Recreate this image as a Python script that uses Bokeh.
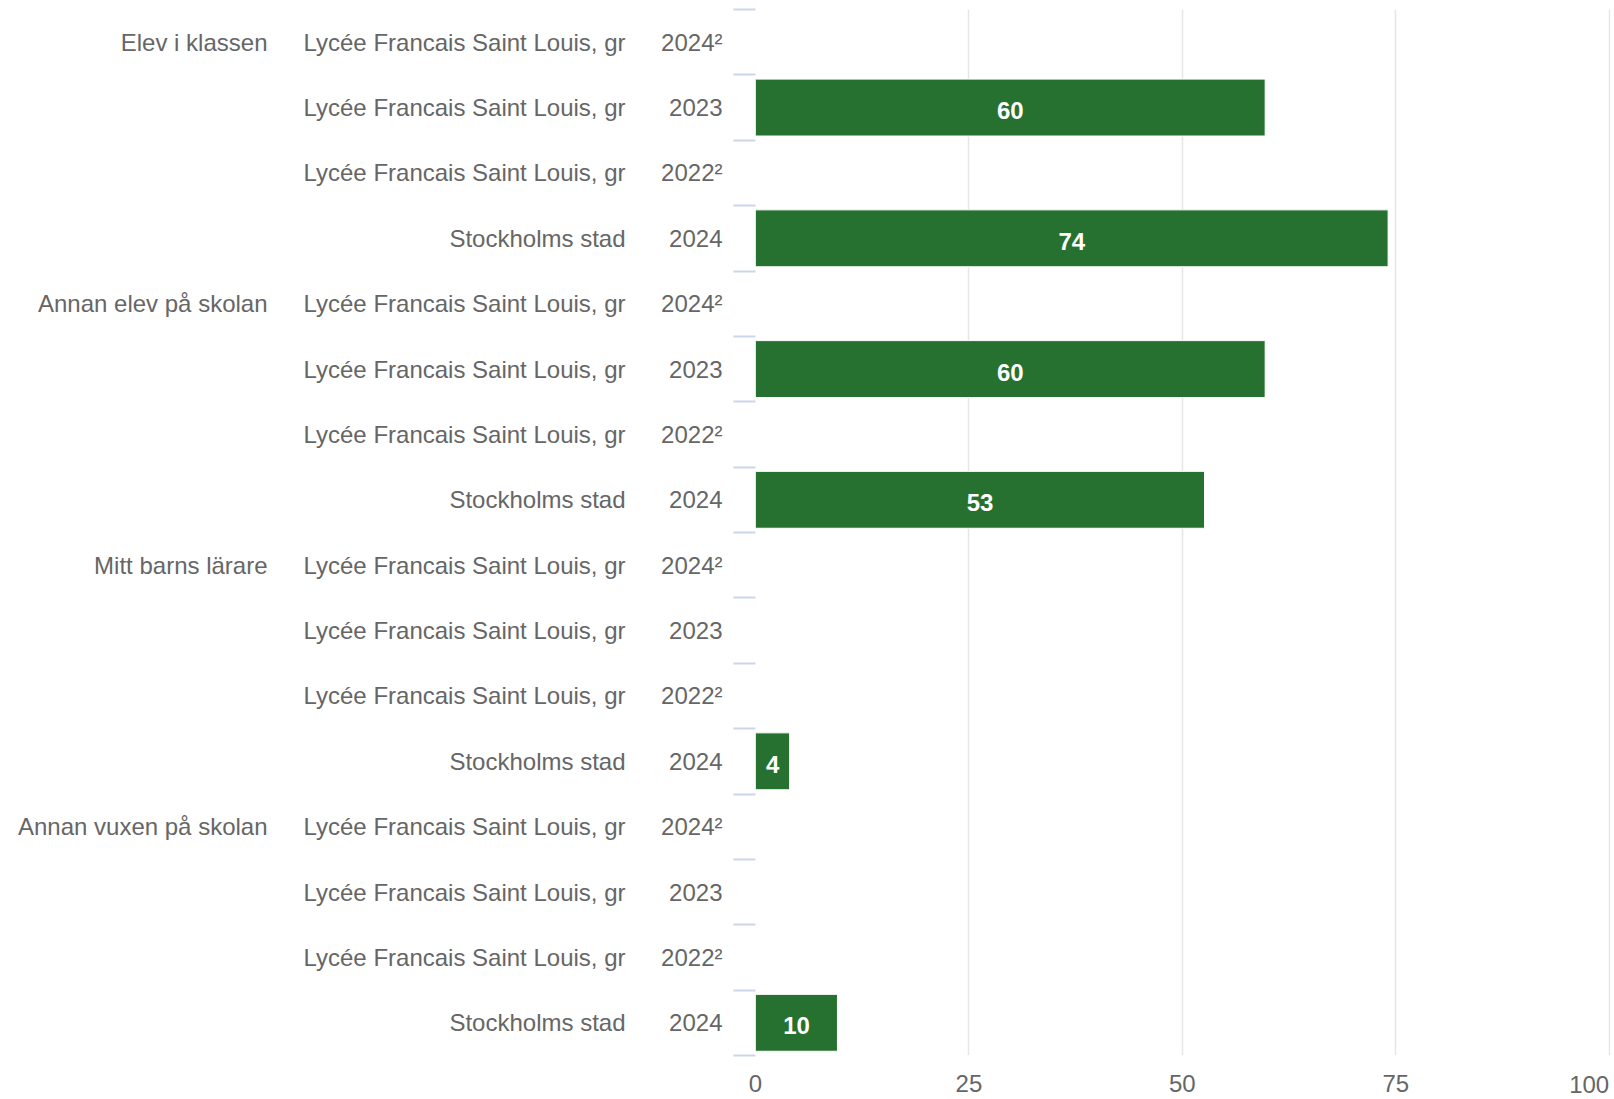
import math
from bokeh.plotting import figure
from bokeh.models import (ColumnDataSource, Range1d, LinearAxis, FixedTicker, Label)
from bokeh.core.properties import value
from bokeh.embed import file_html
from bokeh.resources import INLINE

# ---- data ----
groups = ["Elev i klassen", "Annan elev på skolan", "Mitt barns lärare", "Annan vuxen på skolan"]
sites = ["Lycée Francais Saint Louis, gr", "Lycée Francais Saint Louis, gr",
         "Lycée Francais Saint Louis, gr", "Stockholms stad"]
years = ["2024²", "2023", "2022²", "2024"]
values_elev_i_klassen = [None, 59.7, None, 74.1]
values_annan_elev = [None, 59.7, None, 52.6]
values_mitt_barns_larare = [None, None, None, 4.0]
values_annan_vuxen = [None, None, None, 9.6]
x_ticks = [0, 25, 50, 75, 100]

all_values = values_elev_i_klassen + values_annan_elev + values_mitt_barns_larare + values_annan_vuxen
n_rows = len(groups) * len(sites)
row_sites = sites * len(groups)
row_years = years * len(groups)

FONT = "Liberation Sans"
TXT = "#666666"
BAR = "#26712f"

W, H = 1614, 1099
ML, MR, MT, MB = 755, 4, 9, 44
X_END = 100.15

rows, vals, labels, mids = [], [], [], []
for i, v in enumerate(all_values):
    if v is not None:
        rows.append(i)
        vals.append(v)
        labels.append(str(int(math.floor(v + 0.5))))
        mids.append(v / 2)
src = ColumnDataSource(dict(y=rows, right=vals, mid=mids, label=labels))

p = figure(width=W, height=H, output_backend="svg", toolbar_location=None,
           x_range=Range1d(0, X_END), y_range=Range1d(n_rows - 0.5, -0.5),
           x_axis_location=None, y_axis_location=None,
           min_border_left=ML, min_border_right=MR, min_border_top=MT, min_border_bottom=MB)
p.outline_line_color = None
p.background_fill_color = "white"
p.border_fill_color = "white"

# last value label, flush right against its grid line (innermost below panel)
last_label = Label(x=x_ticks[-1], y=n_rows - 0.5, x_units="data", y_units="data",
                   text=str(x_ticks[-1]), text_align="right", text_baseline="top",
                   y_offset=-20, text_font=FONT, text_font_size="24px",
                   text_color=TXT)
p.add_layout(last_label, "below")

# bottom value axis
xa = LinearAxis(ticker=FixedTicker(ticks=x_ticks, minor_ticks=[]))
xa.major_label_overrides = {x_ticks[-1]: ""}
xa.axis_line_color = None
xa.major_tick_line_color = None
xa.minor_tick_line_color = None
xa.major_tick_out = 0
xa.major_tick_in = 0
xa.minor_tick_out = 0
xa.minor_tick_in = 0
xa.major_label_standoff = 2
xa.major_label_text_font = FONT
xa.major_label_text_font_size = "24px"
xa.major_label_text_color = TXT
p.add_layout(xa, "below")

p.xgrid.ticker = FixedTicker(ticks=x_ticks)
p.xgrid.grid_line_color = "#e6e6e6"
p.xgrid.grid_line_width = 1.5
p.ygrid.grid_line_color = None

# year axis (innermost), with separator minor ticks
ya = LinearAxis(ticker=FixedTicker(ticks=list(range(n_rows)),
                                   minor_ticks=[i - 0.5 for i in range(n_rows + 1)]))
ya.major_label_overrides = {i: row_years[i] for i in range(n_rows)}
ya.axis_line_color = None
ya.major_tick_line_color = None
ya.major_tick_out = 0
ya.major_tick_in = 0
ya.minor_tick_out = 22
ya.minor_tick_in = 0
ya.minor_tick_line_color = "#ccd6eb"
ya.minor_tick_line_width = 2
ya.major_label_standoff = 11
ya.major_label_text_font = FONT
ya.major_label_text_font_size = "24px"
ya.major_label_text_color = TXT
p.add_layout(ya, "left")

# site axis
sa = LinearAxis(ticker=FixedTicker(ticks=list(range(n_rows)), minor_ticks=[]))
sa.major_label_overrides = {i: row_sites[i] for i in range(n_rows)}
sa.axis_line_color = None
sa.major_tick_line_color = None
sa.minor_tick_line_color = None
sa.major_tick_out = 0
sa.major_tick_in = 0
sa.minor_tick_out = 0
sa.major_label_standoff = 33
sa.major_label_text_font = FONT
sa.major_label_text_font_size = "24px"
sa.major_label_text_color = TXT
p.add_layout(sa, "left")

# group axis
group_ticks = [i * len(sites) for i in range(len(groups))]
ga = LinearAxis(ticker=FixedTicker(ticks=group_ticks, minor_ticks=[]))
ga.major_label_overrides = {t: groups[k] for k, t in enumerate(group_ticks)}
ga.axis_line_color = None
ga.major_tick_line_color = None
ga.minor_tick_line_color = None
ga.major_tick_out = 0
ga.major_tick_in = 0
ga.minor_tick_out = 0
ga.major_label_standoff = 33
ga.major_label_text_font = FONT
ga.major_label_text_font_size = "24px"
ga.major_label_text_color = TXT
p.add_layout(ga, "left")

# bars
p.hbar(y="y", left=0, right="right", height=0.87, source=src,
       fill_color=BAR, line_color="white", line_width=1)
p.text(x="mid", y="y", text="label", source=src, text_align="center",
       text_baseline="middle", text_color="white", text_font=value(FONT),
       text_font_style="bold", text_font_size="24px", y_offset=3)

open("out.html", "w").write(file_html(p, INLINE))
